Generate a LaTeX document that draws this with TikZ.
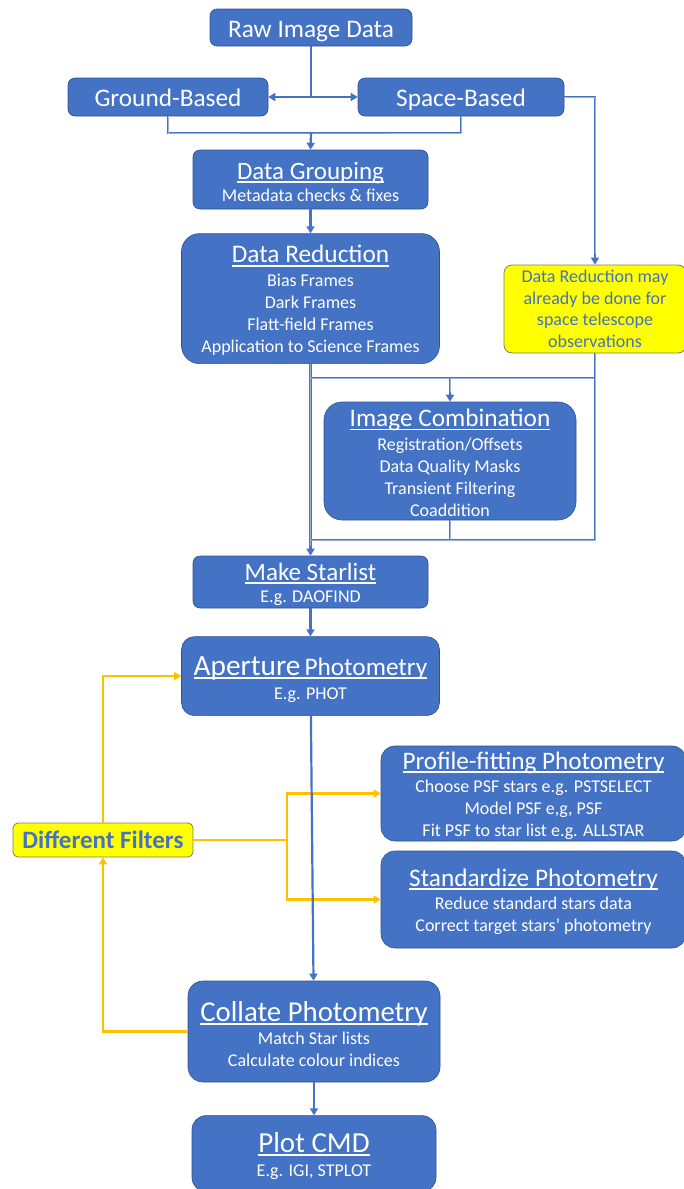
\documentclass[tikz,border=0pt]{standalone}
\usepackage{fontspec}
\setmainfont{Carlito}
\usetikzlibrary{arrows.meta, positioning, calc}
\definecolor{boxblue}{HTML}{4472C4}
\definecolor{boxedge}{HTML}{2F528F}
\definecolor{lineblue}{HTML}{4472C4}
\definecolor{filtorange}{HTML}{FFC000}
\definecolor{noteyellow}{HTML}{FFFF00}
\definecolor{noteedge}{HTML}{7F7F5A}
\newcommand{\ulhead}[1]{\setbox0=\hbox{#1}\leavevmode\rlap{\rule[-3.6pt]{\wd0}{1.5pt}}\box0}
\newcommand{\headln}[2]{{\fontsize{#1}{#1}\selectfont\rule{0pt}{0.85em}\ulhead{#2}}}
\tikzset{
  stage/.style={draw=boxedge, fill=boxblue, rounded corners=7pt, align=center, inner sep=0pt,
    font=\fontsize{18}{22}\selectfont, text=white, line width=0.6pt},
  bigstage/.style={stage, rounded corners=18pt},
  headbox/.style={stage, text height=21pt, text depth=2pt, font=\fontsize{25.3}{25.3}\selectfont},
  notebox/.style={draw=noteedge, fill=noteyellow, rounded corners=8pt, align=center, inner sep=0pt,
    font=\fontsize{18}{21.5}\selectfont, text=boxblue, line width=0.8pt},
  flow/.style={-{Triangle[length=7pt, width=8pt]}, draw=lineblue, line width=2.2pt},
  link/.style={draw=lineblue, line width=2.2pt},
  pipe/.style={draw=lineblue, line width=1pt, double=boxblue!55!white, double distance=0.9pt},
  loop/.style={-{Triangle[length=7pt, width=8pt]}, draw=filtorange, line width=2.2pt}
}
\begin{document}
\begin{tikzpicture}[x=1pt, y=-1pt]
\useasboundingbox (0,0) rectangle (683,1189);
% reduction stages
\node[headbox, minimum width=202pt, minimum height=37pt] (raw) at (311,27.5) {Raw Image Data};
\node[headbox, minimum width=200pt, minimum height=38pt] (ground) at (168,97) {Ground-Based};
\node[headbox, minimum width=206pt, minimum height=38pt] (space) at (461,97) {Space-Based};
\node[stage, minimum width=235pt, minimum height=59pt] (grp) at (310.5,179.5) {\headln{25}{Data Grouping}\\ Metadata checks \& fixes};
\node[bigstage, minimum width=258pt, minimum height=130pt, below=24pt of grp] (red) {\headln{25.3}{Data Reduction}\\[2pt] Bias Frames\\ Dark Frames\\ Flatt-field Frames\\ Application to Science Frames};
\node[notebox, minimum width=182pt, minimum height=88pt] (spacenote) at (595,309) {Data Reduction may\\ already be done for\\ space telescope\\ observations};
\node[bigstage, minimum width=252pt, minimum height=118pt] (ic) at (450,461) {\headln{25.3}{Image Combination}\\[2pt] Registration/Offsets\\ Data Quality Masks\\ Transient Filtering\\ Coaddition};
% photometry stages
\node[stage, minimum width=235pt, minimum height=52pt] (star) at (310.5,582) {\headln{25}{Make Starlist}\\ E.g. DAOFIND};
\node[stage, rounded corners=13pt, minimum width=258pt, minimum height=79pt, below=28pt of star] (ap) {\rule{0pt}{25pt}\ulhead{{\fontsize{29.3}{29.3}\selectfont Aperture} {\fontsize{25.3}{25.3}\selectfont Photometry}}\\[2pt] E.g. PHOT};
\node[stage, rounded corners=14pt, minimum width=305pt, minimum height=95pt] (pf) at (533.5,793.5) {\headln{25.2}{Profile-fitting Photometry}\\[1pt] Choose PSF stars e.g. PSTSELECT\\ Model PSF e,g, PSF\\ Fit PSF to star list e.g. ALLSTAR};
\node[stage, rounded corners=14pt, minimum width=305pt, minimum height=97pt] (std) at (533.5,899.5) {\headln{25.3}{Standardize Photometry}\\[1pt] Reduce standard stars data\\ Correct target stars’ photometry};
\node[notebox, rounded corners=5pt, minimum width=180pt, minimum height=34pt, font=\fontsize{25}{25}\selectfont\bfseries] (filt) at (103,840) {Different Filters};
\node[stage, rounded corners=15pt, minimum width=252pt, minimum height=101pt] (col) at (314,1031.5) {\headln{28.8}{Collate Photometry}\\[1pt] Match Star lists\\ Calculate colour indices};
\node[stage, rounded corners=14pt, minimum width=244pt, minimum height=76pt, below=33pt of col] (plot) {\headln{29}{Plot CMD}\\[2pt] E.g. IGI, STPLOT};
% junctions
\coordinate (split) at (311,97);
\coordinate (merge) at (311,133);
\coordinate (upper) at (311,378);
\coordinate (lower) at (311,540);
\coordinate (fork) at (287,840);
% blue connectors
\draw[link] (raw.south) -- (split);
\draw[flow] (split) -- (ground.east);
\draw[flow] (split) -- (space.west);
\draw[pipe] (ground.south) |- (merge) -| (space.south);
\draw[flow] (merge) -- (grp.north);
\draw[flow] (grp) -- (red);
\draw[pipe] (space.east) -| ([yshift=10pt]spacenote.north);
\draw[flow] ([yshift=10.5pt]spacenote.north) -- (spacenote.north);
\draw[pipe] (red.south) -- ([yshift=9pt]star.north);
\draw[flow] ([yshift=9.5pt]star.north) -- (star.north);
\draw[pipe] (upper) -| (spacenote.south);
\draw[pipe] (spacenote.south) |- (lower);
\draw[pipe] (upper -| ic.north) -- ([yshift=9pt]ic.north);
\draw[flow] ([yshift=9.5pt]ic.north) -- (ic.north);
\draw[pipe] (ic.south) -- (ic.south |- lower);
\draw[flow] (star) -- (ap);
% orange filter loops
\draw[loop] (filt.east) -- (fork) |- (pf.west);
\draw[loop] (fork) |- (std.west);
\draw[loop] (filt.north) |- (ap.west);
\draw[loop] (col.west) -| (filt.south);
\draw[flow] (ap) -- (col);
\draw[flow] (col) -- (plot);
\end{tikzpicture}
\end{document}
